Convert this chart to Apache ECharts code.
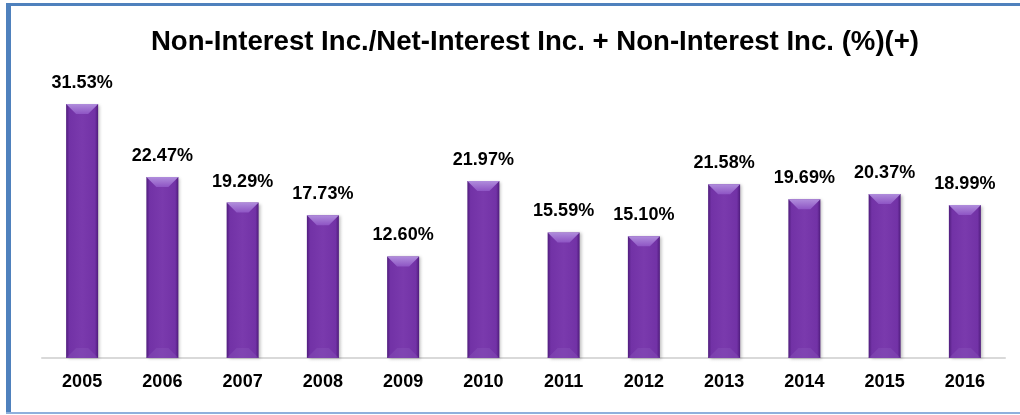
<!DOCTYPE html>
<html>
<head>
<meta charset="utf-8">
<title>Non-Interest Inc. share</title>
<script src="https://cdn.jsdelivr.net/npm/echarts@6/dist/echarts.min.js"></script>
<style>
  html, body { margin: 0; padding: 0; background: #fff; }
  #chart { width: 1020px; height: 415px; }
</style>
</head>
<body>
<div id="chart"></div>
<script>
// Non-interest income as a share of net-interest + non-interest income, by year
const years = ['2005', '2006', '2007', '2008', '2009', '2010', '2011', '2012', '2013', '2014', '2015', '2016'];
const shares = [31.53, 22.47, 19.29, 17.73, 12.60, 21.97, 15.59, 15.10, 21.58, 19.69, 20.37, 18.99];
const titleText = 'Non-Interest Inc./Net-Interest Inc. + Non-Interest Inc. (%)(+)';

const FONT = 'Arial, "Liberation Sans", Helvetica, sans-serif';
const BAR_W = 32;

const chart = echarts.init(document.getElementById('chart'), null, { renderer: 'canvas' });

// bevelled top and bottom faces drawn over each bar
function renderBevel(params, api) {
  const i = api.value(0);
  const v = api.value(1);
  const top = api.coord([i, v]);
  const base = api.coord([i, 0]);
  const x0 = top[0] - BAR_W / 2;
  const x1 = top[0] + BAR_W / 2;
  const y0 = top[1];
  const h = Math.min(10, (base[1] - y0) / 2);
  return {
    type: 'group',
    silent: true,
    children: [
      {
        type: 'polygon',
        shape: { points: [[x0, y0], [x1, y0], [x1 - h, y0 + h], [x0 + h, y0 + h]] },
        style: {
          fill: new echarts.graphic.LinearGradient(0, 0, 0, 1, [
            { offset: 0, color: '#b08ddc' },
            { offset: 1, color: '#8e55c4' }
          ])
        }
      },
      {
        type: 'polygon',
        shape: { points: [[x0, base[1]], [x1, base[1]], [x1 - h, base[1] - h], [x0 + h, base[1] - h]] },
        style: { fill: 'rgba(140,90,190,0.35)' }
      }
    ]
  };
}

chart.setOption({
  animation: false,
  backgroundColor: '#ffffff',
  title: {
    text: titleText,
    left: 530,
    textAlign: 'center',
    top: 23,
    textStyle: { fontFamily: FONT, fontSize: 27.6, fontWeight: 'bold', color: '#000' }
  },
  grid: { left: 42, right: 15, top: 76, bottom: 57, containLabel: false },
  xAxis: {
    type: 'category',
    data: years,
    axisLine: { show: true, lineStyle: { color: '#d9d9d9', width: 2 } },
    axisTick: { show: false },
    axisLabel: {
      margin: 15,
      fontFamily: FONT,
      fontSize: 18,
      fontWeight: 'bold',
      color: '#000'
    }
  },
  yAxis: {
    type: 'value',
    min: 0,
    max: 35,
    show: false,
    splitLine: { show: false }
  },
  graphic: [
    { type: 'rect', shape: { x: 6, y: 3, width: 1014, height: 3 }, style: { fill: '#4f81bd' }, silent: true },
    { type: 'rect', shape: { x: 6, y: 3, width: 5, height: 411 }, style: { fill: '#4f81bd' }, silent: true },
    { type: 'rect', shape: { x: 6, y: 412, width: 1014, height: 2 }, style: { fill: '#8fb0dc' }, silent: true }
  ],
  series: [
    {
      type: 'bar',
      data: shares,
      barWidth: BAR_W,
      itemStyle: {
        color: new echarts.graphic.LinearGradient(0, 0, 1, 0, [
          { offset: 0, color: '#4f1c7c' },
          { offset: 0.1, color: '#7232a6' },
          { offset: 0.5, color: '#7a3aad' },
          { offset: 0.9, color: '#7232a6' },
          { offset: 1, color: '#4f1c7c' }
        ]),
        shadowColor: 'rgba(0,0,0,0.25)',
        shadowBlur: 3,
        shadowOffsetX: 2,
        shadowOffsetY: 1
      },
      label: {
        show: true,
        position: 'top',
        distance: 12,
        formatter: (p) => p.value.toFixed(2) + '%',
        fontFamily: FONT,
        fontSize: 18,
        fontWeight: 'bold',
        color: '#000'
      },
      z: 2
    },
    {
      type: 'custom',
      data: shares.map((v, i) => [i, v]),
      renderItem: renderBevel,
      encode: { x: 0, y: 1 },
      silent: true,
      z: 3
    }
  ]
});
</script>
</body>
</html>
